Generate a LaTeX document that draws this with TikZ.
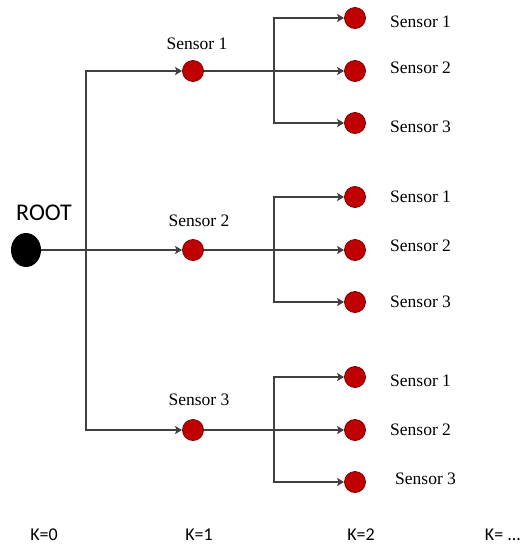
\documentclass[tikz,border=0pt]{standalone}
\usepackage{fontspec}
\setmainfont{Liberation Serif}
\newfontfamily\calfont{Carlito}
\usetikzlibrary{arrows.meta, shapes.geometric}

\definecolor{sensorred}{HTML}{C00000}
\definecolor{sensoredge}{HTML}{7A0000}
\definecolor{linegray}{HTML}{404040}

\tikzset{
  sensor/.style={circle, fill=sensorred, draw=sensoredge, line width=0.8pt,
    minimum size=21pt, inner sep=0pt},
  rootnode/.style={ellipse, fill=black, minimum width=30pt, minimum height=34pt,
    inner sep=0pt},
  link/.style={draw=linegray, line width=1.6pt,
    -{Stealth[length=7pt, width=8pt, inset=1.5pt]}},
  sensorlbl/.style={font=\fontsize{17.5}{20}\selectfont, inner sep=0pt},
  klbl/.style={font=\calfont\fontsize{18}{21}\selectfont, inner sep=0pt},
}

\begin{document}
\begin{tikzpicture}[x=1pt, y=-1pt]
    \useasboundingbox (0,0) rectangle (521,544);

    % Root
    \node[rootnode] (root) at (26,250) {};
    \node[font=\calfont\fontsize{24}{28}\selectfont, inner sep=0pt] (rootlabel) at (44,213) {ROOT};
    \coordinate (trunk) at (86,250);

    % First level
    \foreach \g/\y in {1/71, 2/250, 3/430}
        \node[sensor] (s\g) at (193,\y) {};
    \draw[link] (root) -- (s2);
    \draw[link] (trunk) |- (s1);
    \draw[link] (trunk) |- (s3);

    % Second level
    \foreach \g/\y in {1/71, 2/250, 3/430} {
        \node[sensor] (s\g-1) at (355,\y-53) {};
        \node[sensor] (s\g-2) at (355,\y) {};
        \node[sensor] (s\g-3) at (355,\y+52) {};
        \coordinate (b\g) at (274,\y);
        \draw[link] (s\g) -- (s\g-2);
        \draw[link] (b\g) |- (s\g-1);
        \draw[link] (b\g) |- (s\g-3);
    }

    % Labels
    \node[sensorlbl] (l1) at (197,44) {Sensor 1};
    \node[sensorlbl] (l2) at (199,221) {Sensor 2};
    \node[sensorlbl] (l3) at (199,400) {Sensor 3};

    \node[sensorlbl, anchor=west] (l1-1) at (390,22) {Sensor 1};
    \node[sensorlbl, anchor=west] (l1-2) at (390,68) {Sensor 2};
    \node[sensorlbl, anchor=west] (l1-3) at (390,127) {Sensor 3};
    \node[sensorlbl, anchor=west] (l2-1) at (390,197) {Sensor 1};
    \node[sensorlbl, anchor=west] (l2-2) at (390,246) {Sensor 2};
    \node[sensorlbl, anchor=west] (l2-3) at (390,302) {Sensor 3};
    \node[sensorlbl, anchor=west] (l3-1) at (390,381) {Sensor 1};
    \node[sensorlbl, anchor=west] (l3-2) at (390,430) {Sensor 2};
    \node[sensorlbl, anchor=west] (l3-3) at (395,479) {Sensor 3};

    % Levels
    \node[klbl] (k0) at (44,535) {K=0};
    \node[klbl] (k1) at (199,535) {K=1};
    \node[klbl] (k2) at (361,535) {K=2};
    \node[klbl] (kn) at (503,535) {K= ...};

\end{tikzpicture}
\end{document}
